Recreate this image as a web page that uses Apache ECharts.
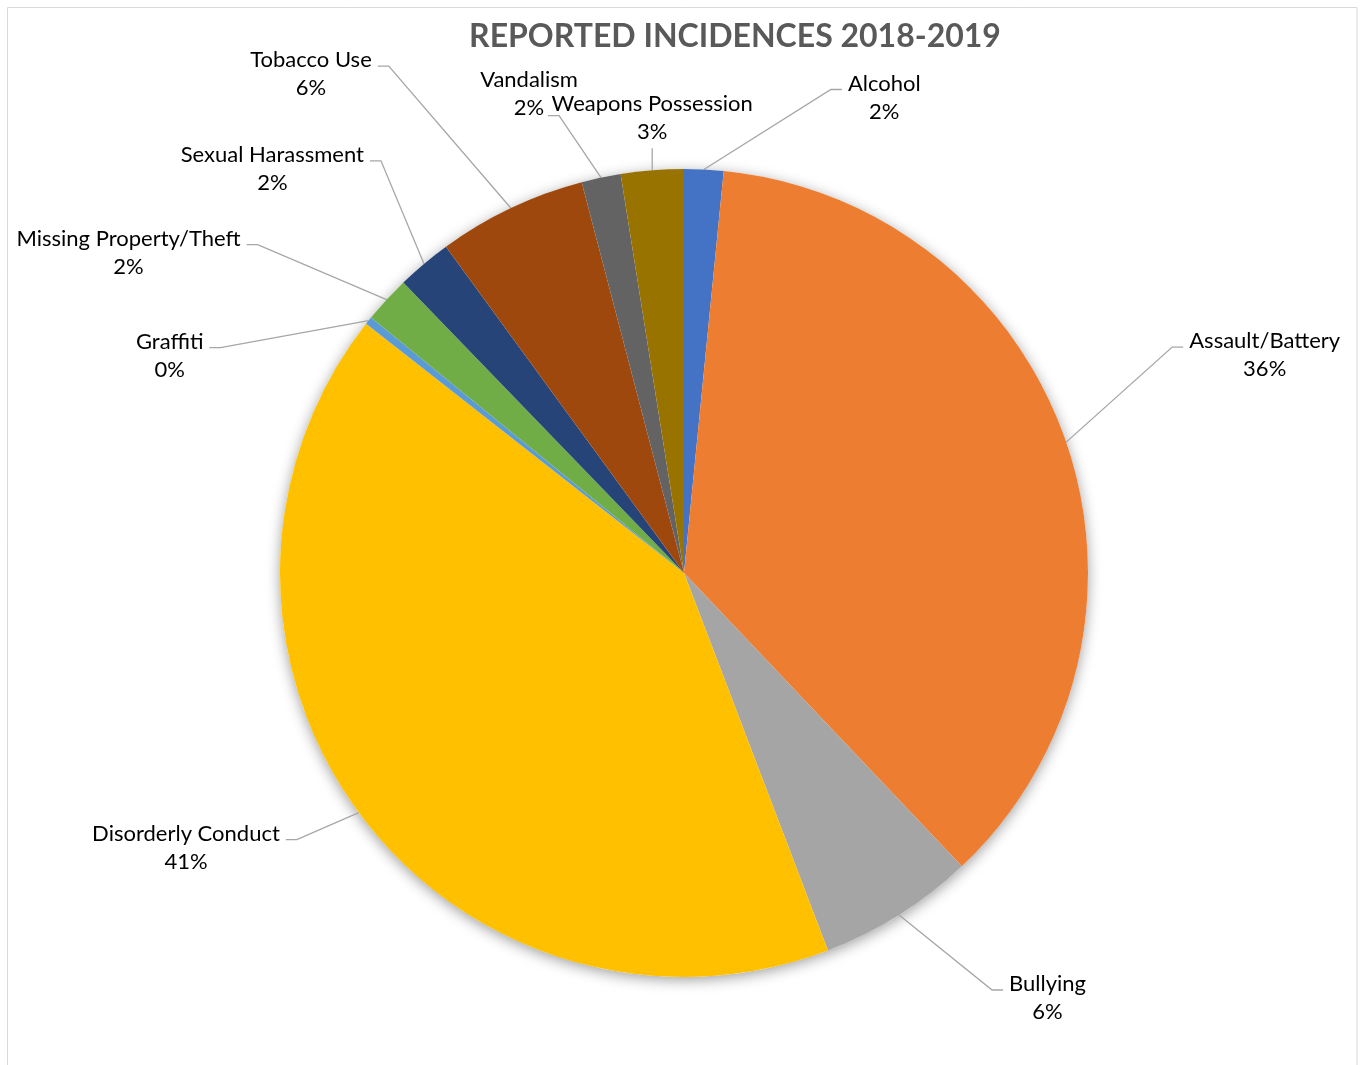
<!DOCTYPE html>
<html>
<head>
<meta charset="utf-8">
<script src="https://cdn.jsdelivr.net/npm/echarts@6/dist/echarts.min.js"></script>
<style>
  html, body { margin: 0; padding: 0; background: #fff; }
  #chart { width: 1361px; height: 1065px; }
</style>
</head>
<body>
<div id="chart"></div>
<script>
// ---- data ----
const TITLE = 'REPORTED INCIDENCES 2018-2019';
const CATEGORIES = ['Alcohol', 'Assault/Battery', 'Bullying', 'Disorderly Conduct', 'Graffiti',
  'Missing Property/Theft', 'Sexual Harassment', 'Tobacco Use', 'Vandalism', 'Weapons Possession'];
const COUNTS = [5, 116, 20, 132, 1, 6, 7, 19, 5, 8];

// ---- styles ----
const COLORS = ['#4472C4', '#ED7D31', '#A5A5A5', '#FFC000', '#5B9BD5',
  '#70AD47', '#264478', '#9E480E', '#636363', '#997300'];
const FONT = 'Lato, "Open Sans", "Noto Sans", sans-serif';
// leader-line end offset relative to the slice edge point; optional text offset from line end
const LABEL_LEADERS = {
  'Alcohol': { end: [138, -80] },
  'Assault/Battery': { end: [117, -95] },
  'Bullying': { end: [104, 75] },
  'Disorderly Conduct': { end: [-73, 27] },
  'Graffiti': { end: [-159, 27] },
  'Missing Property/Theft': { end: [-140, -55] },
  'Sexual Harassment': { end: [-54, -103] },
  'Tobacco Use': { end: [-133, -142] },
  'Vandalism': { end: [-53, -62], text: [-19, -22] },
  'Weapons Possession': { end: [0, -22], text: [0, -30], noElbow: true }
};
const ELBOW = 11, GAP = 6, DROP = 8;

const total = COUNTS.reduce((a, b) => a + b, 0);
const chart = echarts.init(document.getElementById('chart'), null, { renderer: 'canvas' });

chart.setOption({
  animation: false,
  backgroundColor: '#fff',
  title: {
    text: TITLE,
    left: 735,
    top: 19,
    padding: 0,
    textAlign: 'center',
    textStyle: { fontFamily: FONT, fontSize: 32, fontWeight: 'bold', color: '#595959', lineHeight: 36 }
  },
  graphic: [{
    type: 'rect', silent: true, z: -10,
    shape: { x: 7.5, y: 7.5, width: 1349.5, height: 1080 },
    style: { fill: null, stroke: '#d9d9d9', lineWidth: 1 }
  }],
  series: [
    {
      type: 'pie', silent: true, z: 1,
      center: [684, 573], radius: 404,
      label: { show: false }, labelLine: { show: false },
      itemStyle: { color: '#fff', shadowBlur: 14, shadowOffsetY: 3, shadowColor: 'rgba(0,0,0,0.38)' },
      data: [{ value: total, name: '' }]
    },
    {
      type: 'pie', z: 2,
      center: [684, 573], radius: 404,
      startAngle: 90, clockwise: true,
      avoidLabelOverlap: false,
      itemStyle: { borderWidth: 0 },
      label: {
        show: true, position: 'outside',
        fontFamily: FONT, fontSize: 22, lineHeight: 28, color: '#000',
        formatter: p => p.name + '\n' + Math.round(p.value / total * 100) + '%'
      },
      labelLine: { show: true, lineStyle: { color: '#a6a6a6', width: 1.3 } },
      labelLayout: function (p) {
        const cfg = LABEL_LEADERS[CATEGORIES[p.dataIndex]];
        const pts = p.labelLinePoints;
        if (!cfg || !pts) return {};
        const p0 = pts[0];
        const end = [p0[0] + cfg.end[0], p0[1] + cfg.end[1]];
        const side = cfg.end[0] >= 0 ? 1 : -1;
        const w = p.labelRect.width;
        let cx, cy;
        if (cfg.text) { cx = end[0] + cfg.text[0]; cy = end[1] + cfg.text[1]; }
        else { cx = end[0] + side * (GAP + w / 2); cy = end[1] + DROP; }
        const elbow = cfg.noElbow ? [end[0], end[1]] : [end[0] - side * ELBOW, end[1]];
        return { x: cx, y: cy, align: 'center', verticalAlign: 'middle', labelLinePoints: [p0, elbow, end] };
      },
      data: CATEGORIES.map((c, i) => ({ name: c, value: COUNTS[i], itemStyle: { color: COLORS[i] } }))
    }
  ]
});
</script>
</body>
</html>
